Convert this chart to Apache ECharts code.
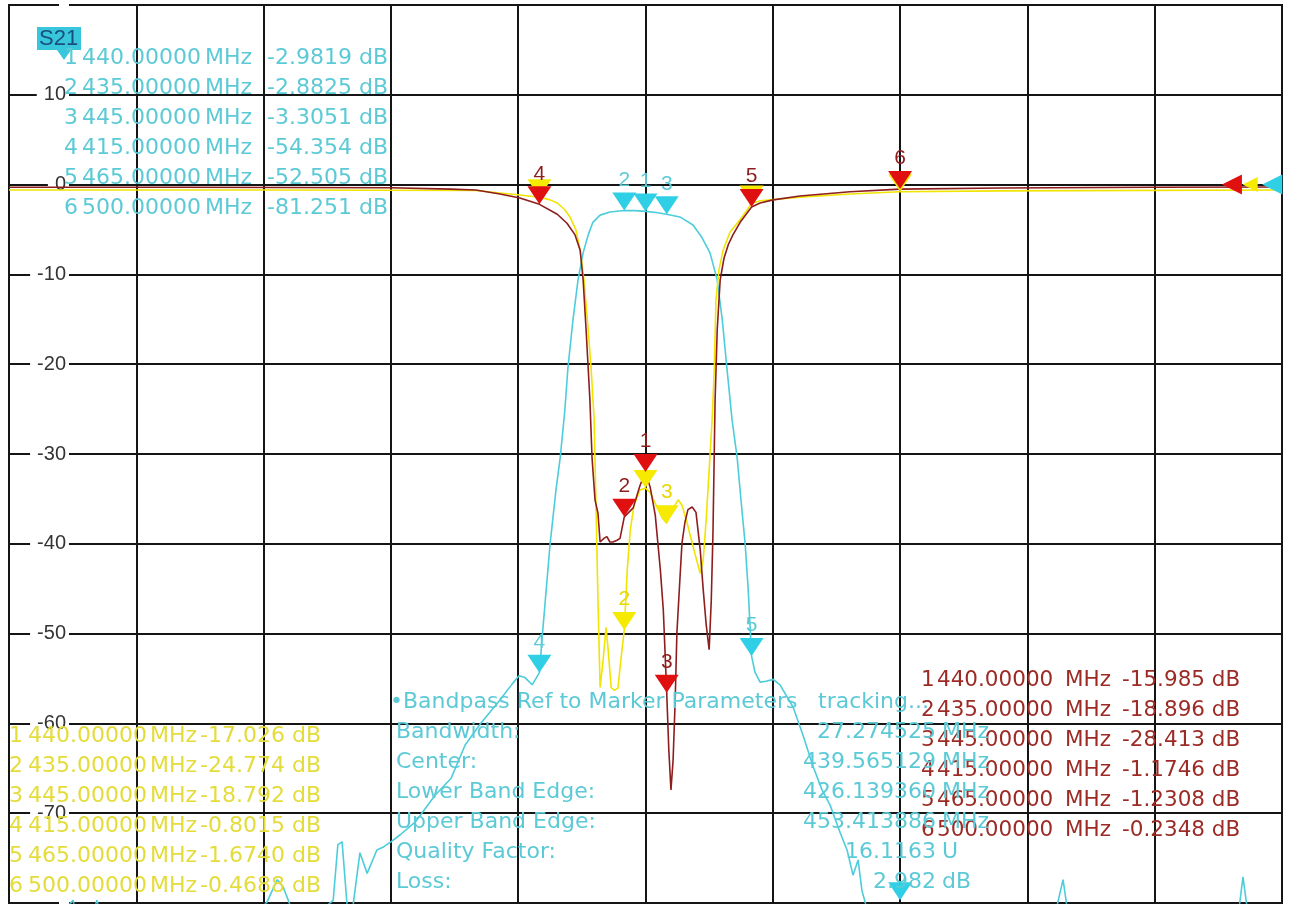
<!DOCTYPE html>
<html><head><meta charset="utf-8">
<script src="https://cdn.jsdelivr.net/npm/echarts@6/dist/echarts.min.js"></script>
<style>html,body{margin:0;padding:0;background:#fff}#c{width:1289px;height:909px}</style>
</head><body><div id="c"></div>
<script>
// ---- axes ----
const xMin = 290, xMax = 590, xStep = 30;      // MHz
const yMin = -80, yMax = 20, yStep = 10;       // dB
const yLabelHidden = [20, -80];

// ---- traces [MHz, dB] ----
const cyanTrace = [[290,-86],[297.3,-84],[302,-81.3],[305.1,-79.7],[306.3,-82],[309.1,-82.5],[310.7,-79.7],[312.4,-82.5],[323.2,-83.6],[339.7,-83],[348,-81.3],[350.8,-79.9],[353.2,-77.4],[354.6,-78.2],[356.7,-80.8],[360.9,-81.9],[366.4,-79.7],[367.5,-73.5],[368.5,-73.2],[369.7,-80.4],[371.1,-80.2],[372.7,-74.4],[374.4,-76.7],[376.7,-74.1],[378.1,-73.8],[380,-73.2],[382.2,-72.4],[385.9,-70.9],[390.4,-68],[394.2,-66.1],[397.5,-62.4],[401,-60.1],[405.7,-57.4],[408.6,-55.6],[410.2,-54.7],[411.6,-54.9],[413.3,-55.7],[415,-54.354],[415.6,-50.7],[416.6,-45.1],[417.5,-40.1],[418.9,-34],[419.9,-30.4],[421,-25.1],[421.7,-20.5],[422.9,-15.1],[424.1,-10.6],[425.3,-7.6],[426.5,-5.6],[427.6,-4.2],[429.3,-3.4],[431.6,-3.05],[435,-2.8825],[437.5,-2.9],[440,-2.9819],[442.5,-3.1],[445,-3.3051],[448.1,-3.6],[451.2,-4.5],[453.3,-5.9],[455.2,-7.6],[456.9,-10.6],[458.1,-15.1],[459.2,-20.5],[460.4,-26.2],[461.6,-30.4],[462.5,-35.1],[463.5,-40.1],[464.2,-45.1],[465,-52.505],[465.8,-54.3],[467,-55.4],[468.4,-55.3],[470.1,-55.1],[471.7,-55.7],[474.8,-58.2],[477.1,-61.3],[479.5,-64.8],[481.6,-67.4],[483.5,-69.1],[485.9,-72.2],[487.5,-74.1],[488.9,-76.9],[490.1,-75.2],[491,-78.6],[492.4,-81],[500,-81.251],[511.8,-83.6],[536.5,-81.3],[538.4,-77.4],[539.6,-81.3],[558.9,-83],[579.7,-81.3],[580.8,-77.1],[582,-81.3],[590,-83]];

const redTrace = [[290,-0.3],[330,-0.3],[380,-0.35],[394,-0.5],[400,-0.6],[405.7,-1.05],[410.4,-1.5],[415,-2.2],[419.2,-3.3],[421.5,-4.3],[423.4,-5.6],[424.6,-7.3],[425.3,-10.6],[426,-16.2],[426.5,-20.5],[426.9,-24],[427.4,-30.4],[428.1,-35.1],[428.8,-36.6],[429.3,-39.8],[430.2,-39.4],[430.9,-39.2],[431.6,-39.8],[432.3,-39.8],[433.3,-39.6],[434,-39.4],[435,-37.0],[437.1,-36],[438.7,-33.5],[440,-32.0],[441.1,-33.7],[442.3,-36.8],[443.5,-42.9],[444.2,-47.4],[445,-56.6],[445.5,-63],[446,-67.4],[446.5,-64.1],[447,-57.4],[447.4,-49.9],[448.1,-44],[448.6,-39.9],[449.3,-37.6],[450,-36.2],[451,-35.9],[451.9,-36.5],[452.9,-40.7],[453.6,-45.1],[454.3,-49],[455,-51.8],[455.5,-46.3],[455.9,-38.8],[456.4,-24],[456.9,-16.2],[457.6,-10.6],[458.5,-8.2],[459.5,-6.7],[460.6,-5.6],[462.3,-4.2],[465,-2.5],[467,-2.05],[470.1,-1.7],[476.4,-1.27],[488.2,-0.8],[500,-0.5],[523.6,-0.38],[560,-0.3],[590,-0.27]];

const yellowTrace = [[290,-0.6],[350,-0.6],[400,-0.65],[405.7,-0.94],[410.4,-1.16],[415,-1.4],[417.5,-1.7],[419.2,-2.05],[421,-2.8],[422.2,-3.6],[423.6,-5.05],[424.6,-7.3],[425.5,-10.6],[426.5,-16.2],[427.2,-20.6],[427.9,-26.2],[428.3,-35.1],[428.8,-46.3],[429.3,-56],[430,-53],[430.7,-49.3],[431.2,-51.8],[431.9,-56],[432.6,-56.3],[433.5,-56.1],[434.2,-52.9],[435,-49.6],[435.7,-42.9],[436.4,-38.5],[437.3,-35.7],[438.7,-34],[440,-33.8],[441.1,-34.3],[442.5,-35.7],[443.9,-37.1],[445,-37.7],[446.3,-36.2],[447.7,-35.1],[448.6,-35.7],[449.6,-37.3],[450.5,-39],[451.7,-41.2],[452.9,-43.3],[453.6,-41.8],[454.3,-37.3],[455,-31.8],[455.7,-26.2],[456.2,-20.6],[456.6,-12.9],[457.3,-9.5],[458.3,-7.3],[459.9,-5.3],[462.3,-3.9],[465,-2.1],[467,-1.8],[476.4,-1.4],[488.2,-1.05],[500,-0.8],[523.6,-0.7],[590,-0.6]];

// ---- markers ----
const markerNames = ['1','2','3','4','5','6'];
const markerFreqs = [440, 435, 445, 415, 465, 500];
const markerFreqText = ['440.00000','435.00000','445.00000','415.00000','465.00000','500.00000'];
const cyanMarkerDb = [-2.9819, -2.8825, -3.3051, -54.354, -52.505, -81.251];
const redMarkerDb = [-32.0, -37.0, -56.6, -2.2, -2.5, -0.5];
const yellowMarkerDb = [-33.8, -49.6, -37.7, -1.4, -2.1, -0.8];
const cyanReadout = ['-2.9819','-2.8825','-3.3051','-54.354','-52.505','-81.251'];
const yellowReadout = ['-17.026','-24.774','-18.792','-0.8015','-1.6740','-0.4688'];
const redReadout = ['-15.985','-18.896','-28.413','-1.1746','-1.2308','-0.2348'];
const refLevelDb = 0;
const refArrowFreq = {red: 578.2, yellow: 582.5, cyan: 587.7};

// ---- bandpass block ----
const bpTitle = '\u2022Bandpass Ref to Marker Parameters';
const bpTracking = 'tracking...';
const bpLabels = ['Bandwidth:','Center:','Lower Band Edge:','Upper Band Edge:','Quality Factor:','Loss:'];
const bpValues = ['27.274525','439.565129','426.139360','453.413886','16.1163','2.982'];
const bpUnits = ['MHz','MHz','MHz','MHz','U','dB'];

const C_CYAN = '#4ccddb', C_RED = '#8e1d1d', C_YEL = '#f0e400';
const T_CYAN = '#5ccad6', T_RED = '#9c2b26', T_YEL = '#e4dc3a';
const FONT = '"Liberation Sans", Arial, sans-serif';
const RFONT = '"DejaVu Sans", sans-serif';

const downTri = 'path://M0,0 L24,0 L12,18 Z';
const leftTri = 'path://M0,9 L20,0 L20,18 Z';

function mp(vals, fill, labColor, hideLabels, refFreq, refSize) {
  const data = markerFreqs.map((f, i) => ({
    name: markerNames[i],
    coord: [f, Math.max(vals[i], yMin + 0.3)],
    label: {show: !hideLabels.includes(i)}
  }));
  data.push({name: '', coord: [refFreq, refLevelDb], symbol: leftTri, symbolSize: refSize, symbolOffset: [0, 0], label: {show: false}});
  return {
    z: 6,
    symbol: downTri,
    symbolSize: [24, 18],
    symbolOffset: [0, '-50%'],
    itemStyle: {color: fill},
    label: {show: true, position: 'top', distance: 2, formatter: '{b}', color: labColor, fontSize: 21, fontFamily: FONT},
    data
  };
}

const graphics = [];
function txt(x, y, s, color, size, align, font) {
  graphics.push({type: 'text', z: 50, silent: true, style: {
    x, y, text: s, fill: color, font: size + 'px ' + (font || RFONT),
    textAlign: align || 'left', textVerticalAlign: 'middle'}});
}
// S21 box
graphics.push({type: 'rect', z: 49, shape: {x: 37, y: 27, width: 44, height: 23}, style: {fill: '#38c6dc'}});
graphics.push({type: 'polygon', z: 49, shape: {points: [[57, 50], [71, 50], [64, 60]]}, style: {fill: '#38c6dc'}});
txt(39, 39, 'S21', '#184f7c', 22, 'left', FONT);
// cyan readout
for (let i = 0; i < 6; i++) {
  const y = 58 + 30 * i;
  txt(64, y, markerNames[i], T_CYAN, 22);
  txt(82, y, markerFreqText[i], T_CYAN, 22);
  txt(205, y, 'MHz', T_CYAN, 22);
  txt(267, y, cyanReadout[i] + ' dB', T_CYAN, 22);
}
// yellow readout
for (let i = 0; i < 6; i++) {
  const y = 736 + 30 * i;
  txt(9, y, markerNames[i], T_YEL, 22);
  txt(28, y, markerFreqText[i], T_YEL, 22);
  txt(150, y, 'MHz', T_YEL, 22);
  txt(200, y, yellowReadout[i] + ' dB', T_YEL, 22);
}
// red readout
for (let i = 0; i < 6; i++) {
  const y = 680 + 30 * i;
  txt(921, y, markerNames[i], T_RED, 21.5);
  txt(937, y, markerFreqText[i], T_RED, 21.5);
  txt(1065, y, 'MHz', T_RED, 21.5);
  txt(1122, y, redReadout[i] + ' dB', T_RED, 21.5);
}
// bandpass block
txt(390, 702, bpTitle, T_CYAN, 22);
txt(818, 702, bpTracking, T_CYAN, 22);
for (let i = 0; i < 6; i++) {
  const y = 732 + 30 * i;
  txt(396, y, bpLabels[i], T_CYAN, 22);
  txt(936, y, bpValues[i], T_CYAN, 22, 'right');
  txt(942, y, bpUnits[i], T_CYAN, 22);
}

const chart = echarts.init(document.getElementById('c'), null, {renderer: 'canvas'});
chart.setOption({
  animation: false,
  backgroundColor: '#fff',
  grid: {left: 9, top: 5, right: 7, bottom: 6, show: true, borderColor: '#111', borderWidth: 2, containLabel: false},
  xAxis: {type: 'value', min: xMin, max: xMax, interval: xStep,
    axisLine: {show: false}, axisTick: {show: false}, axisLabel: {show: false},
    splitLine: {show: true, lineStyle: {color: '#151515', width: 2}}},
  yAxis: {type: 'value', min: yMin, max: yMax, interval: yStep,
    axisLine: {show: false}, axisTick: {show: false},
    axisLabel: {inside: true, align: 'right', margin: 60, color: '#333', fontSize: 20, fontFamily: FONT,
      backgroundColor: '#fff', padding: [1, 3, 1, 7],
      formatter: v => yLabelHidden.includes(v) ? '' : String(v)},
    splitLine: {show: true, lineStyle: {color: '#151515', width: 2}}},
  series: [
    {name: 'cyan', type: 'line', data: cyanTrace, showSymbol: false, z: 3, clip: true,
      lineStyle: {color: C_CYAN, width: 1.6}, markPoint: mp(cyanMarkerDb, '#2fd0e6', T_CYAN, [5], refArrowFreq.cyan, [20, 20])},
    {name: 'yellow', type: 'line', data: yellowTrace, showSymbol: false, z: 4, clip: true,
      lineStyle: {color: C_YEL, width: 1.6}, markPoint: mp(yellowMarkerDb, '#f5ea00', '#e8d800', [0, 3, 4, 5], refArrowFreq.yellow, [15, 15])},
    {name: 'red', type: 'line', data: redTrace, showSymbol: false, z: 5, clip: true,
      lineStyle: {color: C_RED, width: 1.6}, markPoint: mp(redMarkerDb, '#e01010', '#8e1d1d', [], refArrowFreq.red, [20, 20])}
  ],
  graphic: graphics
});
</script></body></html>
